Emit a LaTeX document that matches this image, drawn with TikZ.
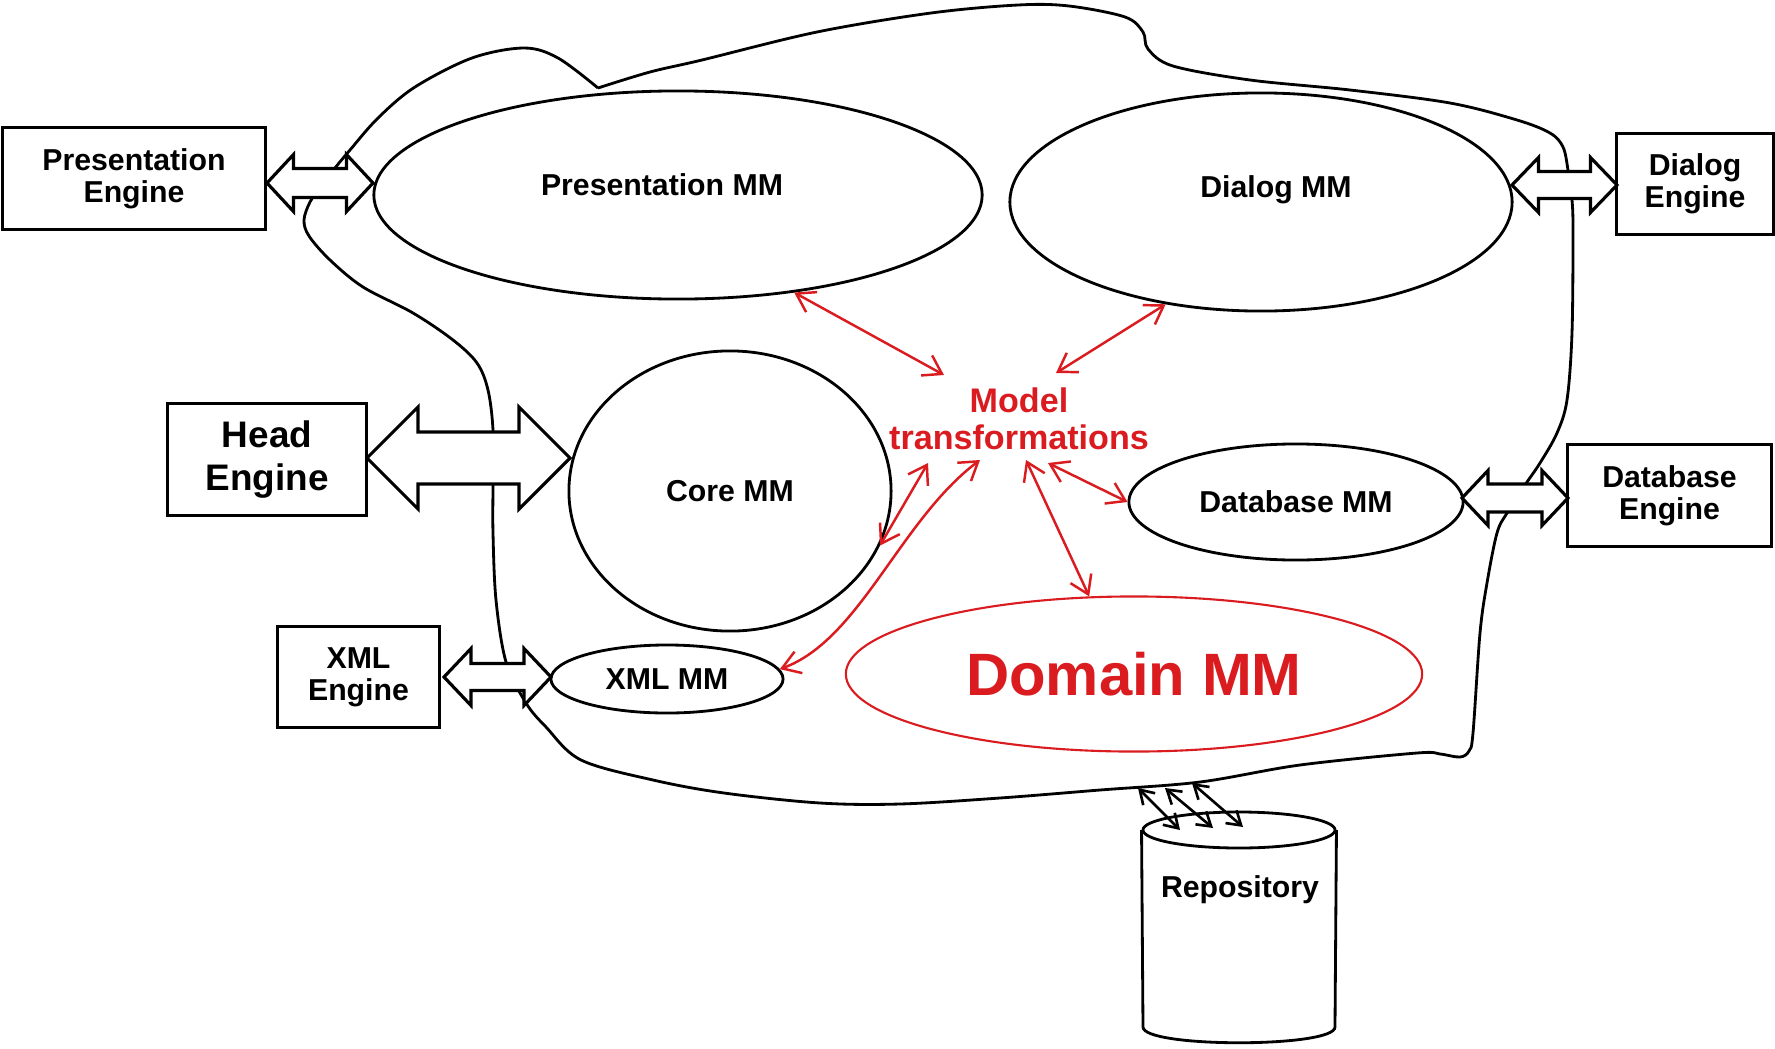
\documentclass[tikz,border=0pt]{standalone}
\usepackage{fontspec}
\setmainfont{Liberation Sans}
\usetikzlibrary{shapes.geometric, arrows.meta, calc}
\definecolor{mtred}{RGB}{218,28,32}
\newcommand{\blockarr}[5]{%
  \draw[barrow] (#1) -- ($(#1)+(#5,#4)$) -- ($(#1)+(#5,#3)$) -- ($(#2)+(-#5,#3)$) -- ($(#2)+(-#5,#4)$) -- (#2) -- ($(#2)+(-#5,-#4)$) -- ($(#2)+(-#5,-#3)$) -- ($(#1)+(#5,-#3)$) -- ($(#1)+(#5,-#4)$) -- cycle;}
\begin{document}
\begin{tikzpicture}[x=0.01cm, y=-0.01cm,
  base/.style={font=\fontsize{8.6pt}{9.2pt}\selectfont\bfseries, align=center},
  engine/.style={base, draw, line width=0.85pt, rectangle, inner sep=0},
  mm/.style={base, draw, line width=0.8pt, ellipse, inner sep=0},
  barrow/.style={draw, fill=white, line width=0.9pt, line join=miter},
  redarr/.style={draw=mtred, line width=0.7pt, {Straight Barb[length=5pt,width=6.5pt]}-{Straight Barb[length=5pt,width=6.5pt]}},
  repoarr/.style={draw, line width=0.75pt, {Straight Barb[length=3.8pt,width=4.8pt]}-{Straight Barb[length=3.8pt,width=4.8pt]}},
  blob/.style={draw, line width=0.8pt}
]
\useasboundingbox (0,0) rectangle (1775,1048);
\fill[white] (0,0) rectangle (1775,1048);

% big outline
\draw[blob] plot[smooth, tension=0.55] coordinates {
(598,88) (650,72) (702,60) (817,32) (931,13) (1018,5) (1069,6) (1125,17) (1143,32) (1148,49) (1173,66) (1250,80) (1350,90) (1450,103) (1517,120) (1550,133) (1563,147) (1568,170) (1572,200) (1573,233) (1572,333) (1567,400) (1557,433) (1540,463) (1525,485) (1507,513) (1497,533) (1487,583) (1480,633) (1473,733) (1469,751) (1460,757) (1440,754) (1417,753) (1300,765) (1200,782) (1100,790) (1000,798) (900,804) (820,803) (724,793) (653,780) (581,760) (546,727) (526,703) (506,662) (496,600) (493,533) (493,483) (493,430) (488,390) (477,363) (453,340) (413,313) (363,287) (330,260) (309,236) (304,220) (310,202) (320,188) (335,168) (350,150) (378,118) (415,87) (472,58) (524,48) (558,58) (598,88)};

% block arrows
\coordinate (pal) at (267,183); \coordinate (par) at (373,183);
\blockarr{pal}{par}{14.5}{28.5}{26.5}
\coordinate (dal) at (1512,185); \coordinate (dar) at (1617,185);
\blockarr{dal}{dar}{13.5}{27.5}{26.5}
\coordinate (hal) at (367,458); \coordinate (har) at (570,458);
\blockarr{hal}{har}{26}{51}{51}
\coordinate (xal) at (444,677); \coordinate (xar) at (551,677);
\blockarr{xal}{xar}{13.5}{28.5}{27}
\coordinate (dbal) at (1462,498); \coordinate (dbar) at (1568,498);
\blockarr{dbal}{dbar}{14}{27.5}{26}

% engines
\node[engine, minimum width=26.2mm, minimum height=10.1mm] (pe) at (134,178.5) {Presentation\\Engine};
\node[engine, minimum width=15.6mm, minimum height=10mm] (de) at (1695,184) {Dialog\\Engine};
\node[engine, minimum width=20.3mm, minimum height=10.1mm] (dbe) at (1669.5,495.5) {Database\\Engine};
\node[engine, minimum width=19.8mm, minimum height=11.1mm, font=\fontsize{10.5pt}{12pt}\selectfont\bfseries] (he) at (267,459.5) {Head\\Engine};
\node[engine, minimum width=16.1mm, minimum height=10mm] (xe) at (358.5,677) {XML\\Engine};

% meta-models
\node[mm, minimum width=60.8mm, minimum height=20.8mm] (pmm) at (678,195) {};
\node[base] (pmmt) at (662,185) {Presentation MM};
\node[mm, minimum width=50.2mm, minimum height=21.8mm] (dmm) at (1261,202) {};
\node[base] (dmmt) at (1276,190) {Dialog MM};
\node[mm, minimum width=32.2mm, minimum height=28mm] (cmm) at (730,491) {Core MM};
\node[mm, minimum width=33.4mm, minimum height=11.6mm] (dbmm) at (1296,502) {Database MM};
\node[mm, minimum width=23.2mm, minimum height=6.8mm] (xmm) at (667,679) {XML MM};
\node[mm, draw=mtred, text=mtred, line width=0.6pt, minimum width=57.6mm, minimum height=15.5mm, font=\fontsize{17pt}{18pt}\selectfont\bfseries] (dom) at (1134,674) {Domain MM};

% model transformations
\node[base, text=mtred, font=\fontsize{9.7pt}{10.6pt}\selectfont\bfseries, inner sep=0] (mt) at (1019,419) {Model\\transformations};
\coordinate (m1) at (944,375);
\coordinate (m2) at (1056,373);
\coordinate (m3) at (928,463);
\coordinate (m4) at (980,460);
\coordinate (m5) at (1026,460);
\coordinate (m6) at (1048,463);
\draw[redarr] (pmm.-40) -- (m1);
\draw[redarr] (dmm.-133) -- (m2);
\draw[redarr] (cmm.-20) -- (m3);
\draw[redarr] (xmm.5) .. controls (860,640) and (900,520) .. (m4);
\draw[redarr] (dom.120) -- (m5);
\draw[redarr] (dbmm.180) -- (m6);

% repository
\node[ellipse, draw, line width=0.8pt, fill=white, minimum width=19.2mm, minimum height=3.6mm, inner sep=0] (repotop) at (1239,830) {};
\draw[line width=0.8pt] (repotop.west) -- (1143,1027) .. controls (1143,1048) and (1335,1048) .. (1335,1027) -- (repotop.east);
\node[base] (repo) at (1240,890) {Repository};
\coordinate (r1a) at (1138,788); \coordinate (r1b) at (1180,830);
\coordinate (r2a) at (1165,788); \coordinate (r2b) at (1213,828);
\coordinate (r3a) at (1192,783); \coordinate (r3b) at (1243,827);
\draw[repoarr] (r1a) -- (r1b);
\draw[repoarr] (r2a) -- (r2b);
\draw[repoarr] (r3a) -- (r3b);
\end{tikzpicture}
\end{document}
